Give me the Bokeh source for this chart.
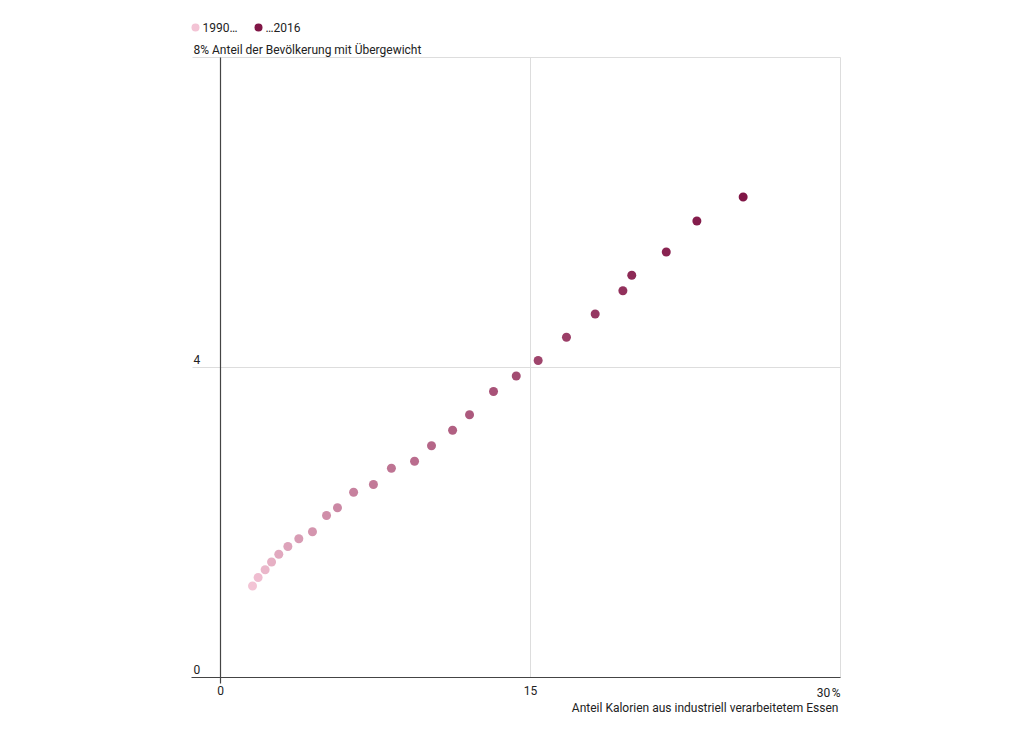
from bokeh.plotting import figure
from bokeh.models import ColumnDataSource, Range1d
from bokeh.core.properties import value
from bokeh.embed import file_html
from bokeh.resources import INLINE

# ---- data -------------------------------------------------------------
years = list(range(1990, 2017))
processed_share = [1.55, 1.82, 2.16, 2.47, 2.82, 3.26, 3.79, 4.45, 5.13, 5.66,
                   6.44, 7.40, 8.27, 9.39, 10.21, 11.23, 12.05, 13.21, 14.31,
                   15.37, 16.74, 18.13, 19.47, 19.90, 21.57, 23.05, 25.29]
overweight_share = [1.18, 1.29, 1.39, 1.49, 1.59, 1.69, 1.79, 1.88, 2.09, 2.19,
                    2.39, 2.49, 2.70, 2.79, 2.99, 3.19, 3.39, 3.69, 3.89, 4.09,
                    4.39, 4.69, 4.99, 5.19, 5.49, 5.89, 6.20]
x_ticks = [0, 15, 30]
x_tick_labels = ["0", "15", "30\u202f%"]
y_ticks = [0, 4]
y_tick_labels = ["0", "4"]
legend_labels = ["1990\u2026", "\u20262016"]

x_title = "Anteil Kalorien aus industriell verarbeitetem Essen"
y_title = "8% Anteil der Bevölkerung mit Übergewicht"

# ---- style ------------------------------------------------------------
FONT = value("Roboto")
TXT = "#222222"
LIGHT = (243, 196, 213)
DARK = (128, 22, 70)


def mix(t):
    r = [round(a + (b - a) * t) for a, b in zip(LIGHT, DARK)]
    return "#%02x%02x%02x" % tuple(r)


colors = [mix((y - years[0]) / (years[-1] - years[0])) for y in years]

W, H = 1020, 726
XMAX, YMAX = 30, 8
PX_X = 620 / XMAX   # px per x unit
PX_Y = 620 / YMAX   # px per y unit
X0_PX = 220          # canvas px of x = 0
Y0_PX = 677          # canvas px (from top) of y = 0

p = figure(width=W, height=H, output_backend="svg", toolbar_location=None,
           x_axis_type=None, y_axis_type=None,
           x_range=Range1d(-X0_PX / PX_X, (W - X0_PX) / PX_X),
           y_range=Range1d(-(H - Y0_PX) / PX_Y, Y0_PX / PX_Y),
           min_border=0, min_border_left=0, min_border_right=0,
           min_border_top=0, min_border_bottom=0)
p.outline_line_color = None
p.background_fill_color = "white"
p.border_fill_color = "white"

XL = -28 / PX_X   # left edge of chart area (labels column)

# frame lines & grid
p.segment(x0=[XL, XMAX, 15, XL], y0=[YMAX, 0, 0, 4],
          x1=[XMAX, XMAX, 15, XMAX], y1=[YMAX, YMAX, YMAX, 4],
          line_color="#dddddd", line_width=1)
# axis lines
p.segment(x0=[XL - 1 / PX_X, 0], y0=[0, -6 / PX_Y], x1=[XMAX, 0], y1=[0, YMAX],
          line_color="#444444", line_width=1.2)

# points
src = ColumnDataSource(dict(x=processed_share, y=overweight_share,
                            year=years, color=colors))
p.scatter("x", "y", source=src, size=9, fill_color="color", line_color=None)

# y tick labels
p.text(x=[XL] * len(y_ticks), y=y_ticks, text=y_tick_labels,
       text_font=FONT, text_font_size="12px", text_color=TXT,
       text_align="left", text_baseline="alphabetic", x_offset=1, y_offset=-8)
# y title
p.text(x=[XL], y=[YMAX], text=[y_title],
       text_font=FONT, text_font_size="12px", text_color=TXT,
       text_align="left", text_baseline="alphabetic", x_offset=1, y_offset=-8)

# x tick labels
aligns = ["center", "center", "right"]
p.text(x=x_ticks, y=[0] * len(x_ticks), text=x_tick_labels,
       text_font=FONT, text_font_size="12px", text_color=TXT,
       text_align=aligns, text_baseline="top", y_offset=8)
# x title
p.text(x=[XMAX], y=[0], text=[x_title],
       text_font=FONT, text_font_size="12px", text_color=TXT,
       text_align="right", text_baseline="top", y_offset=23, x_offset=-2)

# legend (above the chart)
leg_y = (Y0_PX - 27) / PX_Y
leg_x = [XL + 3 / PX_X, XL + 66 / PX_X]
p.scatter(x=leg_x, y=[leg_y] * 2, size=8, fill_color=[colors[0], colors[-1]],
          line_color=None)
p.text(x=leg_x, y=[leg_y] * 2, text=legend_labels,
       text_font=FONT, text_font_size="12px", text_color=TXT,
       text_align="left", text_baseline="middle", x_offset=7)

open("out.html", "w").write(file_html(p, INLINE))
